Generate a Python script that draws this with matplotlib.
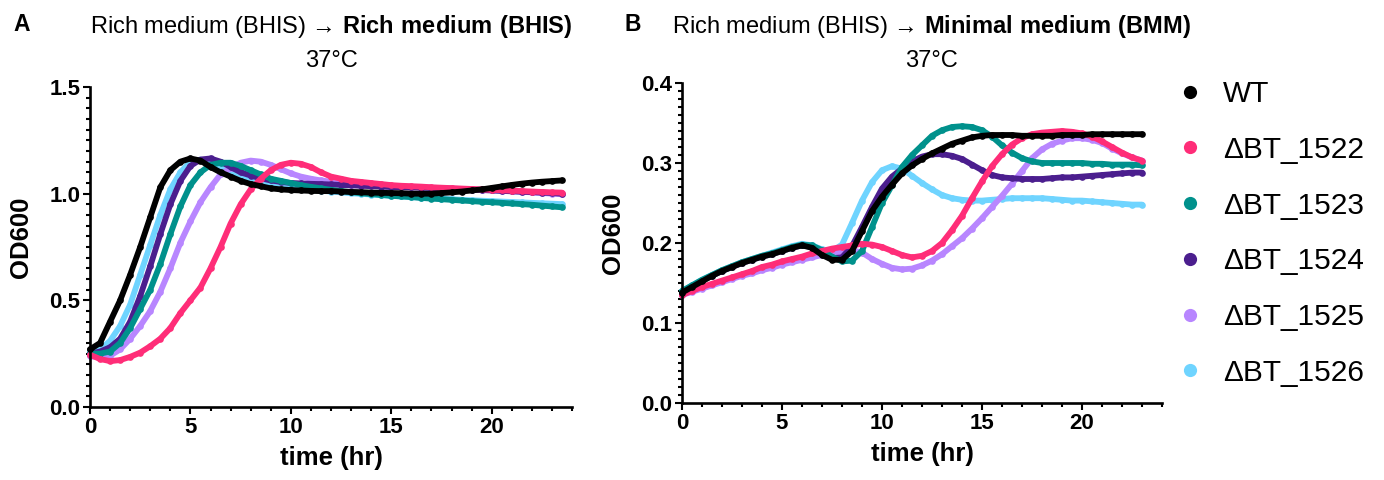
import numpy as np
import matplotlib
matplotlib.use("Agg")
import matplotlib.pyplot as plt
from matplotlib.lines import Line2D
from matplotlib.ticker import MultipleLocator, FormatStrFormatter

plt.rcParams['font.family'] = ['Liberation Sans', 'DejaVu Sans']
plt.rcParams['mathtext.fontset'] = 'custom'
plt.rcParams['mathtext.rm'] = 'Liberation Sans'
plt.rcParams['mathtext.bf'] = 'Liberation Sans:bold'

# ---------------- data ----------------
strains = ["WT", "ΔBT_1522", "ΔBT_1523", "ΔBT_1524", "ΔBT_1525", "ΔBT_1526"]
colors = ["#000000", "#FF2D78", "#00918C", "#4B1E8E", "#B886FF", "#6FD4FF"]

time_A = np.arange(0, 23.51, 0.5)
time_B = np.arange(0, 23.01, 0.5)

od_A_WT = [0.27, 0.30, 0.40, 0.50, 0.62, 0.75, 0.89, 1.03,
           1.11, 1.15, 1.165, 1.155, 1.125, 1.10, 1.08, 1.06,
           1.045, 1.035, 1.025, 1.02, 1.017, 1.015, 1.013, 1.012,
           1.012, 1.01, 1.008, 1.007, 1.005, 1.004, 1.003, 1.002,
           1.0, 1.0, 1.0, 1.003, 1.006, 1.01, 1.015, 1.02,
           1.027, 1.034, 1.041, 1.047, 1.052, 1.056, 1.059, 1.062]
od_A_1522 = [0.245, 0.225, 0.215, 0.22, 0.235, 0.255, 0.285, 0.32,
             0.37, 0.44, 0.50, 0.56, 0.65, 0.75, 0.86, 0.95,
             1.02, 1.07, 1.11, 1.135, 1.145, 1.14, 1.125, 1.10,
             1.08, 1.07, 1.06, 1.055, 1.05, 1.045, 1.04, 1.037,
             1.035, 1.033, 1.03, 1.028, 1.026, 1.024, 1.022, 1.02,
             1.018, 1.016, 1.014, 1.012, 1.01, 1.008, 1.006, 1.005]
od_A_1523 = [0.25, 0.25, 0.26, 0.30, 0.37, 0.46, 0.55, 0.67,
             0.81, 0.94, 1.04, 1.10, 1.135, 1.145, 1.145, 1.13,
             1.11, 1.09, 1.07, 1.06, 1.05, 1.04, 1.032, 1.025,
             1.018, 1.012, 1.007, 1.002, 0.998, 0.994, 0.99, 0.987,
             0.984, 0.98, 0.977, 0.974, 0.971, 0.968, 0.965, 0.962,
             0.96, 0.957, 0.954, 0.951, 0.948, 0.944, 0.94, 0.936]
od_A_1524 = [0.25, 0.26, 0.28, 0.32, 0.40, 0.52, 0.66, 0.81,
             0.95, 1.06, 1.13, 1.16, 1.165, 1.15, 1.125, 1.10,
             1.085, 1.072, 1.062, 1.055, 1.05, 1.048, 1.046, 1.045,
             1.043, 1.041, 1.039, 1.037, 1.035, 1.033, 1.031, 1.03,
             1.029, 1.028, 1.027, 1.025, 1.023, 1.021, 1.019, 1.017,
             1.015, 1.013, 1.011, 1.009, 1.007, 1.005, 1.003, 1.0]
od_A_1525 = [0.24, 0.23, 0.24, 0.27, 0.32, 0.38, 0.45, 0.54,
             0.65, 0.77, 0.87, 0.96, 1.03, 1.09, 1.12, 1.145,
             1.155, 1.15, 1.135, 1.115, 1.095, 1.08, 1.07, 1.062,
             1.056, 1.051, 1.047, 1.044, 1.041, 1.038, 1.036, 1.034,
             1.032, 1.03, 1.028, 1.026, 1.024, 1.022, 1.02, 1.018,
             1.016, 1.014, 1.012, 1.009, 1.006, 1.003, 1.0, 0.997]
od_A_1526 = [0.26, 0.27, 0.31, 0.38, 0.48, 0.62, 0.76, 0.90,
             1.02, 1.10, 1.15, 1.16, 1.145, 1.12, 1.095, 1.075,
             1.06, 1.048, 1.04, 1.033, 1.027, 1.022, 1.018, 1.014,
             1.01, 1.006, 1.002, 0.999, 0.996, 0.993, 0.99, 0.987,
             0.984, 0.981, 0.979, 0.976, 0.974, 0.971, 0.969, 0.967,
             0.965, 0.963, 0.961, 0.959, 0.957, 0.955, 0.953, 0.951]

od_B_WT = [0.138, 0.145, 0.152, 0.159, 0.165, 0.170, 0.175, 0.179,
           0.183, 0.186, 0.190, 0.194, 0.197, 0.194, 0.185, 0.179,
           0.179, 0.190, 0.215, 0.240, 0.258, 0.273, 0.287, 0.297,
           0.305, 0.312, 0.318, 0.324, 0.328, 0.332, 0.334, 0.335,
           0.335, 0.335, 0.334, 0.334, 0.334, 0.334, 0.335, 0.335,
           0.335, 0.336, 0.336, 0.336, 0.336, 0.336, 0.336]
od_B_1522 = [0.135, 0.140, 0.145, 0.149, 0.153, 0.157, 0.161, 0.165,
             0.170, 0.173, 0.177, 0.180, 0.183, 0.187, 0.190, 0.193,
             0.195, 0.197, 0.199, 0.198, 0.195, 0.190, 0.185, 0.182,
             0.184, 0.190, 0.200, 0.216, 0.234, 0.256, 0.277, 0.296,
             0.311, 0.323, 0.331, 0.336, 0.338, 0.339, 0.340, 0.339,
             0.337, 0.333, 0.327, 0.320, 0.313, 0.307, 0.303]
od_B_1523 = [0.140, 0.147, 0.154, 0.160, 0.166, 0.171, 0.176, 0.180,
             0.184, 0.187, 0.191, 0.195, 0.198, 0.197, 0.191, 0.183,
             0.177, 0.178, 0.190, 0.220, 0.250, 0.272, 0.295, 0.310,
             0.322, 0.334, 0.341, 0.345, 0.346, 0.345, 0.341, 0.333,
             0.322, 0.313, 0.306, 0.302, 0.300, 0.300, 0.300, 0.300,
             0.300, 0.299, 0.299, 0.298, 0.298, 0.298, 0.297]
od_B_1524 = [0.139, 0.146, 0.153, 0.159, 0.165, 0.170, 0.175, 0.179,
             0.183, 0.186, 0.190, 0.194, 0.197, 0.195, 0.187, 0.181,
             0.182, 0.196, 0.220, 0.245, 0.268, 0.283, 0.293, 0.302,
             0.308, 0.311, 0.311, 0.309, 0.305, 0.298, 0.291, 0.285,
             0.282, 0.281, 0.280, 0.280, 0.280, 0.281, 0.282, 0.282,
             0.283, 0.284, 0.285, 0.286, 0.287, 0.288, 0.288]
od_B_1525 = [0.135, 0.139, 0.143, 0.147, 0.151, 0.155, 0.159, 0.162,
             0.166, 0.169, 0.173, 0.176, 0.179, 0.182, 0.185, 0.187,
             0.189, 0.191, 0.188, 0.180, 0.174, 0.169, 0.167, 0.168,
             0.172, 0.178, 0.186, 0.196, 0.206, 0.218, 0.231, 0.245,
             0.259, 0.274, 0.290, 0.306, 0.317, 0.324, 0.328, 0.331,
             0.331, 0.329, 0.325, 0.318, 0.312, 0.307, 0.303]
od_B_1526 = [0.140, 0.147, 0.154, 0.160, 0.166, 0.171, 0.176, 0.180,
             0.184, 0.188, 0.192, 0.196, 0.199, 0.197, 0.192, 0.190,
             0.198, 0.225, 0.253, 0.276, 0.291, 0.296, 0.293, 0.284,
             0.275, 0.267, 0.260, 0.256, 0.254, 0.253, 0.253, 0.254,
             0.255, 0.256, 0.256, 0.256, 0.256, 0.255, 0.254, 0.253,
             0.253, 0.252, 0.251, 0.250, 0.249, 0.248, 0.248]

series_A = [od_A_WT, od_A_1522, od_A_1523, od_A_1524, od_A_1525, od_A_1526]
series_B = [od_B_WT, od_B_1522, od_B_1523, od_B_1524, od_B_1525, od_B_1526]

title_A_plain = "Rich medium (BHIS) → "
title_A_bold = "Rich medium (BHIS)"
title_B_plain = "Rich medium (BHIS) → "
title_B_bold = "Minimal medium (BMM)"
temp_label = "37°C"

# ---------------- figure ----------------
W, H = 1384, 480
fig = plt.figure(figsize=(W / 100, H / 100), dpi=100)

def px_axes(left, top, right, bottom):
    return fig.add_axes([left / W, 1 - bottom / H, (right - left) / W, (bottom - top) / H])

axA = px_axes(90, 87, 572, 407)
axB = px_axes(682, 83, 1162, 403)

draw_order = [5, 4, 3, 2, 1, 0]  # 1526, 1525, 1524, 1523, 1522, WT

def mathbf(s):
    return "$\\mathbf{" + s.replace(" ", "\\ ") + "}$"

for ax, t, series, ylim, ymaj, ymin in [
        (axA, time_A, series_A, 1.5, 0.5, 0.05),
        (axB, time_B, series_B, 0.4, 0.1, 0.01)]:
    for i in draw_order:
        ax.plot(t, series[i], color=colors[i], lw=4.2, marker='o', ms=4.8,
                mew=0, solid_capstyle='round', clip_on=False)
    ax.set_xlim(0, 24)
    ax.set_ylim(0, ylim)
    ax.xaxis.set_major_locator(MultipleLocator(5))
    ax.xaxis.set_minor_locator(MultipleLocator(1))
    ax.yaxis.set_major_locator(MultipleLocator(ymaj))
    ax.yaxis.set_minor_locator(MultipleLocator(ymin))
    ax.yaxis.set_major_formatter(FormatStrFormatter('%.1f'))
    for s in ['top', 'right']:
        ax.spines[s].set_visible(False)
    for s in ['left', 'bottom']:
        ax.spines[s].set_linewidth(1.9)
    ax.tick_params(which='major', length=5, width=1.5, labelsize=16, pad=2)
    ax.tick_params(which='minor', length=2.6, width=1.5)
    for lab in ax.get_xticklabels() + ax.get_yticklabels():
        lab.set_fontweight('bold')
    ax.set_xlabel("time (hr)", fontsize=18.5, fontweight='bold', labelpad=6)
    ax.set_ylabel("OD600", fontsize=18.5, fontweight='bold', labelpad=12)
    ax.yaxis.label.set_y(0.53)

# titles
for cx, plain, bold, letter, lx in [
        (331, title_A_plain, title_A_bold, "A", 13),
        (931, title_B_plain, title_B_bold, "B", 625)]:
    fig.text(cx / W, 1 - 33 / H, plain + mathbf(bold), fontsize=17,
             ha='center', va='baseline')
    fig.text(cx / W, 1 - 67 / H, temp_label, fontsize=17, ha='center', va='baseline')
    fig.text(lx / W, 1 - 31 / H, letter, fontsize=16.5, fontweight='bold',
             ha='left', va='baseline')

# legend
handles = [Line2D([], [], ls='none', marker='o', ms=9.5, mew=0, color=c) for c in colors]
fig.legend(handles, strains, loc='upper left', bbox_to_anchor=(1175 / W, 1 - 80 / H),
           frameon=False, fontsize=21.5, handlelength=1.0, handletextpad=0.6,
           labelspacing=0.93, borderpad=0, borderaxespad=0)

fig.savefig("out.png", dpi=100)
